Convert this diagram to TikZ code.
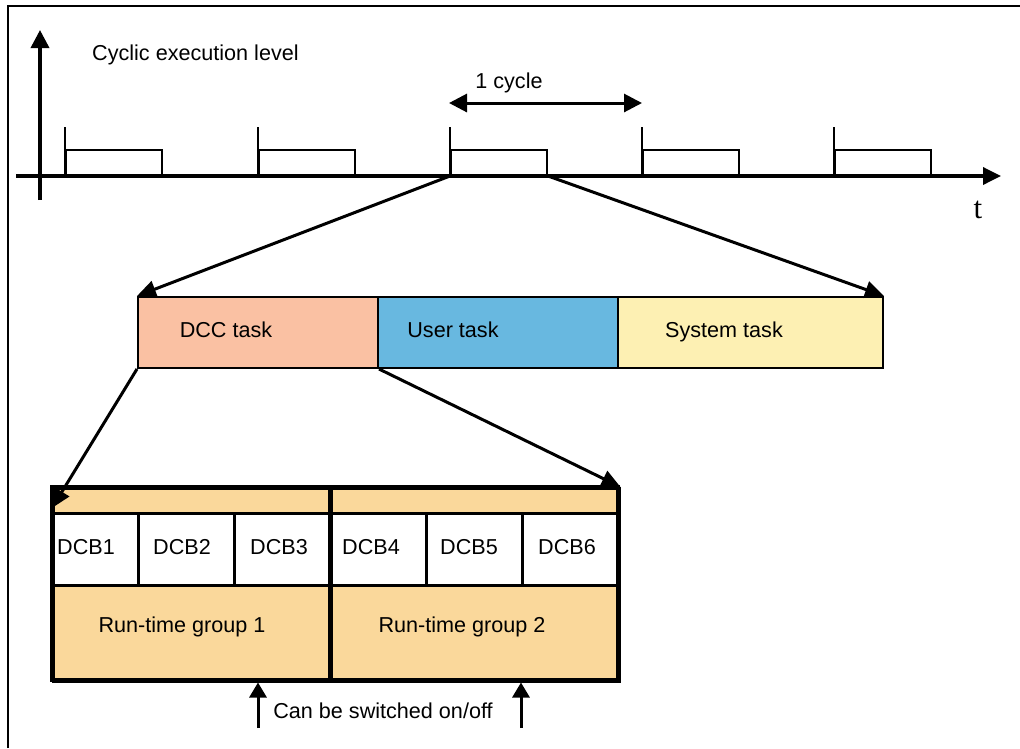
\documentclass[tikz,border=0pt]{standalone}
\usepackage{fontspec}
\setmainfont{Liberation Sans}
\newfontfamily\seriffont{Liberation Serif}
\usetikzlibrary{arrows.meta}
\definecolor{dccfill}{HTML}{FAC1A3}
\definecolor{userfill}{HTML}{68B8E0}
\definecolor{sysfill}{HTML}{FDF0B3}
\definecolor{grpfill}{HTML}{FAD89B}
\begin{document}
\begin{tikzpicture}[x=1pt,y=-1pt,
  txt/.style={font=\fontsize{21.6}{25}\selectfont, inner sep=0pt, anchor=base},
  bigtip/.style={-{Triangle[length=19pt,width=17pt]}},
  axisline/.style={line width=3.5pt},
  conn/.style={line width=3pt, bigtip},
  pulse/.style={draw, line width=2pt, minimum width=96pt, minimum height=25pt, inner sep=0pt, anchor=south west},
  taskbox/.style={draw, line width=2pt, minimum height=71pt, inner sep=0pt, anchor=north west},
  dcbcell/.style={draw, line width=2.5pt, fill=white, minimum height=72pt, inner sep=0pt, anchor=north west},
  grpcell/.style={draw, line width=2.5pt, fill=grpfill, inner sep=0pt, anchor=north west}
]
\useasboundingbox (0,0) rectangle (1020,748);
% frame
\draw[line width=2pt] (8,748) -- (8,6) -- (1020,6);

% axes
\coordinate (yb) at (40,200);
\coordinate (yt) at (40,30);
\coordinate (xl) at (16,176);
\coordinate (xr) at (1001,176);
\draw[axisline, -{Triangle[length=18pt,width=18pt]}] (yb) -- (yt);
\draw[axisline, -{Triangle[length=18pt,width=17pt]}] (xl) -- (xr);
\node[txt, anchor=base west] (lvl) at (92,60) {Cyclic execution level};
\node[inner sep=0pt, anchor=base, font=\seriffont\fontsize{31}{34}\selectfont] (t) at (978,218) {t};

% pulses
\foreach \i/\x in {0/65,1/258,2/450,3/642,4/834}{
  \node[pulse] (p\i) at (\x,176) {};
  \coordinate (tk\i) at (\x,127);
  \draw[line width=2pt] (p\i.south west) -- (tk\i);
}

% 1 cycle
\coordinate (cl) at (449,103);
\coordinate (cr) at (642,103);
\draw[line width=3pt, {Triangle[length=18pt,width=18pt]}-{Triangle[length=18pt,width=18pt]}] (cl) -- (cr);
\node[txt] (cyc) at (509,88) {1 cycle};

% tasks
\node[taskbox, fill=dccfill, minimum width=240pt] (dcc) at (137,296) {};
\node[taskbox, fill=userfill, minimum width=240pt] (user) at (377,296) {};
\node[taskbox, fill=sysfill, minimum width=265pt] (sys) at (617,296) {};
\node[txt] (dcct) at (226,337) {DCC task};
\node[txt] (usert) at (453,337) {User task};
\node[txt] (syst) at (724,337) {System task};

\draw[conn] (p2.south west) -- (dcc.north west);
\draw[conn] (p2.south east) -- (sys.north east);

% bottom block
\node[grpcell, minimum width=278pt, minimum height=25pt] (s1) at (52,487) {};
\node[grpcell, minimum width=288pt, minimum height=25pt] (s2) at (330,487) {};
\foreach \i/\x/\w/\c in {1/52/85/86,2/137/96/182,3/233/97/279,4/330/95/371,5/425/96/469,6/521/97/567}{
  \node[dcbcell, minimum width=\w pt] (dcb\i) at (\x,512) {};
  \node[txt] (dcbt\i) at (\c,554) {DCB\i};
}
\node[grpcell, minimum width=278pt, minimum height=96pt] (g1) at (52,584) {};
\node[grpcell, minimum width=288pt, minimum height=96pt] (g2) at (330,584) {};
\node[txt] (g1t) at (182,632) {Run-time group 1};
\node[txt] (g2t) at (462,632) {Run-time group 2};
\draw[line width=4pt] (52,487) rectangle (618,680);
\draw[line width=4pt] (s2.north west) -- (g2.south west);

\coordinate (dtip) at (52,508);
\draw[conn] (dcc.south west) -- (dtip);
\draw[conn] (dcc.south east) -- (s2.north east);

% switch arrows
\coordinate (a1) at (258,728);
\coordinate (a2) at (521,728);
\draw[line width=3pt, -{Triangle[length=15pt,width=17pt]}] (a1) -- (a1 |- g1.south);
\draw[line width=3pt, -{Triangle[length=15pt,width=17pt]}] (a2) -- (a2 |- g2.south);
\node[txt] (sw) at (383,718) {Can be switched on/off};
\end{tikzpicture}
\end{document}
